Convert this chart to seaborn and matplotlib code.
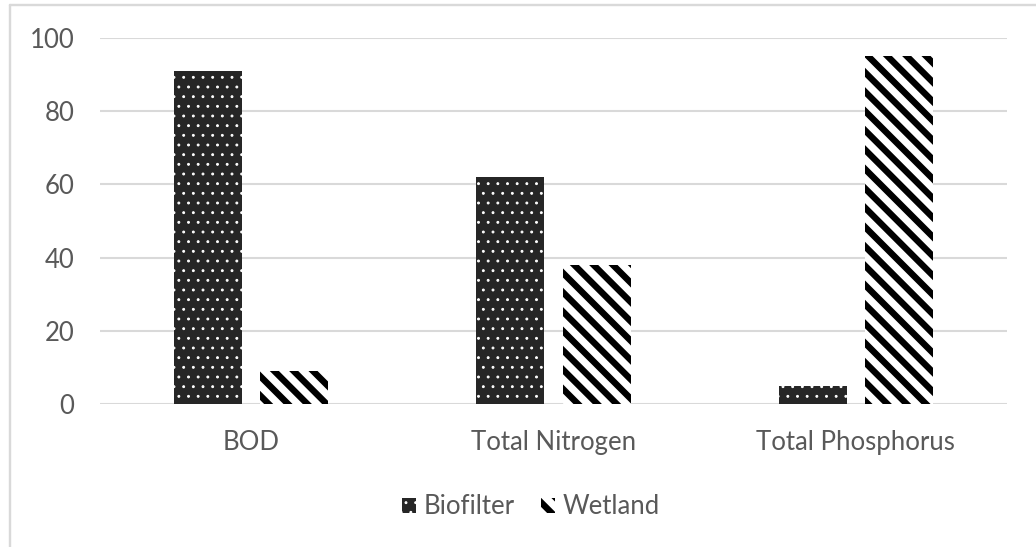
import matplotlib
matplotlib.use("Agg")
import matplotlib.pyplot as plt
import matplotlib.patches as mpatches
from matplotlib.lines import Line2D
import seaborn as sns
import pandas as pd

# Removal efficiency (%) by parameter and treatment system
categories = ["BOD", "Total Nitrogen", "Total Phosphorus"]
biofilter = [91, 62, 5]
wetland = [9, 38, 95]
series_names = ["Biofilter", "Wetland"]
y_ticks = [0, 20, 40, 60, 80, 100]

df = pd.DataFrame({
    "Parameter": categories * 2,
    "Removal": biofilter + wetland,
    "System": [series_names[0]] * len(categories) + [series_names[1]] * len(categories),
})

DPI = 116
TEXT = "#595959"
GRID = "#d9d9d9"
DARK = "#262626"
DOT_LW = 0.6
STRIPE_LW = 4.0

sns.set_theme(style="white")
plt.rcParams["font.family"] = ["Lato", "DejaVu Sans"]

fig = plt.figure(figsize=(1036 / DPI, 547 / DPI), dpi=DPI)
ax = fig.add_axes([100 / 1036, 143 / 547, 907 / 1036, 366 / 547])

sns.barplot(data=df, x="Parameter", y="Removal", hue="System",
            order=categories, hue_order=series_names,
            width=0.57, gap=0.21, legend=False, ax=ax)


def style_dots(p):
    """Dark fill with a fine white dot pattern."""
    p.set_facecolor(DARK)
    p.set_edgecolor("white")
    p.set_hatch("..")
    p.set_linewidth(0)
    p.set_hatch_linewidth(DOT_LW)


def style_stripes(p):
    """White fill with wide black downward diagonals."""
    p.set_facecolor("white")
    p.set_edgecolor("black")
    p.set_hatch("\\\\")
    p.set_linewidth(0)
    p.set_hatch_linewidth(STRIPE_LW)


for p in ax.containers[0]:
    style_dots(p)
for p in ax.containers[1]:
    style_stripes(p)

ax.set_ylim(0, 100)
ax.set_xlim(-0.5, len(categories) - 0.5)
ax.set_yticks(y_ticks)
ax.yaxis.grid(True, color=GRID, linewidth=1.3)
ax.set_axisbelow(True)
for s in ax.spines.values():
    s.set_visible(False)
ax.set_xlabel("")
ax.set_ylabel("")
ax.tick_params(axis="y", length=0, pad=16, labelsize=16, labelcolor=TEXT)
ax.tick_params(axis="x", length=0, pad=16, labelsize=16, labelcolor=TEXT)

# Legend with matching pattern swatches
h1 = mpatches.Patch(label=series_names[0])
style_dots(h1)
h2 = mpatches.Patch(label=series_names[1])
style_stripes(h2)
leg = fig.legend(handles=[h1, h2], loc="center",
                 bbox_to_anchor=(531 / 1036, 1 - 507 / 547),
                 ncol=2, frameon=False, fontsize=16, labelcolor=TEXT,
                 handlelength=0.55, handleheight=0.55, handletextpad=0.3,
                 columnspacing=1.0)
style_dots(leg.legend_handles[0])
style_stripes(leg.legend_handles[1])

# Chart-area border
fig.add_artist(Line2D([10 / 1036, 1], [1 - 5 / 547] * 2, color=GRID, lw=1.5))
fig.add_artist(Line2D([10 / 1036] * 2, [0, 1 - 5 / 547], color=GRID, lw=1.5))

fig.savefig("out.png", dpi=DPI, facecolor="white")
